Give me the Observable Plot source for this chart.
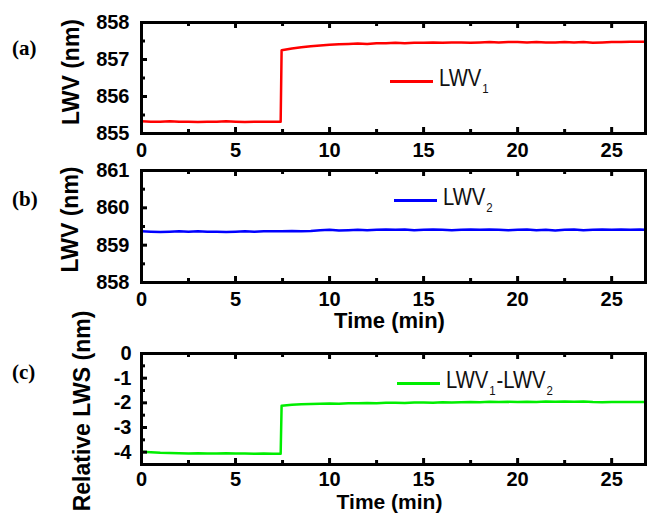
<!DOCTYPE html>
<html>
<head>
<meta charset="utf-8">
<script src="https://cdn.jsdelivr.net/npm/d3@7"></script>
<script src="https://cdn.jsdelivr.net/npm/@observablehq/plot@0.6"></script>
<style>
  html, body { margin: 0; padding: 0; background: #fff; }
  #wrap { position: relative; width: 647px; height: 515px; background: #fff; overflow: hidden; }
  #wrap svg { position: absolute; left: 0; }
  .plabel { position: absolute; left: 12px; font: bold 21px "Liberation Serif", "Times New Roman", serif; line-height: 1; color: #000; }
  .legend { position: absolute; display: flex; align-items: center; height: 24px; }
  .legend .ln { width: 43px; height: 3px; margin-right: 6px; }
  .legend .tx { font: 23px "Liberation Sans", Arial, sans-serif; color: #111; line-height: 1; transform: scaleX(0.88); transform-origin: left center; white-space: nowrap; }
  .legend sub { font-size: 13px; vertical-align: -7px; margin: 0 1px; }
</style>
</head>
<body>
<div id="wrap"></div>
<script>
// ---- data ----
const times = [0,0.5,1,1.5,2,2.5,3,3.5,4,4.5,5,5.5,6,6.5,7,7.4,7.45,
  8,8.5,9,9.5,10,10.5,11,11.5,12,12.5,13,13.5,14,14.5,15,15.5,16,16.5,17,17.5,
  18,18.5,19,19.5,20,20.5,21,21.5,22,22.5,23,23.5,24,24.5,25,25.5,26,26.5,26.8];

const lwv1 = [855.33,855.32,855.32,855.33,855.32,855.32,855.31,855.32,855.32,855.33,855.32,855.31,855.32,855.32,855.32,855.32,857.25,
  857.30,857.33,857.36,857.38,857.40,857.41,857.42,857.43,857.42,857.44,857.44,857.45,857.44,857.45,857.45,857.46,857.45,857.46,857.46,857.45,
  857.46,857.47,857.46,857.47,857.47,857.46,857.47,857.46,857.46,857.47,857.46,857.47,857.45,857.46,857.47,857.47,857.48,857.48,857.48];

const lwv2 = [859.37,859.36,859.35,859.36,859.37,859.36,859.37,859.36,859.36,859.35,859.36,859.37,859.36,859.37,859.37,859.37,859.37,
  859.38,859.37,859.38,859.40,859.41,859.39,859.40,859.41,859.40,859.41,859.42,859.41,859.42,859.40,859.41,859.42,859.41,859.40,859.41,859.42,
  859.41,859.42,859.41,859.40,859.41,859.42,859.40,859.41,859.39,859.41,859.42,859.40,859.41,859.42,859.41,859.42,859.41,859.42,859.41];

const relLws = [-3.98,-4.00,-4.02,-4.03,-4.04,-4.05,-4.04,-4.05,-4.05,-4.04,-4.05,-4.05,-4.06,-4.05,-4.06,-4.06,-2.12,
  -2.08,-2.06,-2.05,-2.04,-2.03,-2.04,-2.02,-2.02,-2.01,-2.02,-2.00,-2.00,-2.01,-1.99,-1.99,-2.00,-1.98,-1.99,-1.98,-1.97,
  -1.98,-1.96,-1.97,-1.96,-1.97,-1.96,-1.97,-1.95,-1.96,-1.95,-1.96,-1.95,-1.97,-1.98,-1.97,-1.97,-1.97,-1.97,-1.97];

const xDomain = [0, 26.8];
const xTicks = [0, 5, 10, 15, 20, 25];
const xMinor = [2.5, 7.5, 12.5, 17.5, 22.5];

const panelA = {values: lwv1, color: "#ff0000", yDomain: [855, 858], yTicks: [855, 856, 857, 858], yMinor: [855.5, 856.5, 857.5], ylabel: "LWV (nm)"};
const panelB = {values: lwv2, color: "#0000ff", yDomain: [858, 861], yTicks: [858, 859, 860, 861], yMinor: [858.5, 859.5, 860.5], ylabel: "LWV (nm)", xlabel: "Time (min)"};
const panelC = {values: relLws, color: "#00ee00", yDomain: [-4.5, 0], yTicks: [0, -1, -2, -3, -4], yMinor: [-0.5, -1.5, -2.5, -3.5], ylabel: "Relative LWS (nm)", xlabel: "Time (min)"};

// ---- layout ----
const layout = [
  {p: panelA, top: 0,   height: 165, marginTop: 22, marginBottom: 32, yPad: 12, xPad: 9, ylDx: -70, ylDy: -6, xlDy: 0, xlSize: 22, label: "(a)", labelTop: 38,
   legend: {left: 390, top: 69, html: "LWV<sub>1</sub>"}},
  {p: panelB, top: 150, height: 190, marginTop: 20, marginBottom: 58, yPad: 12, xPad: 9, ylDx: -71, ylDy: -7, xlDy: 38, xlSize: 22, label: "(b)", labelTop: 189,
   legend: {left: 394, top: 188, html: "LWV<sub>2</sub>"}},
  {p: panelC, top: 340, height: 175, marginTop: 13, marginBottom: 51, yPad: 10, xPad: 7, ylDx: -59, ylDy: 2, xlDy: 38, xlSize: 21, label: "(c)", labelTop: 362,
   legend: {left: 397, top: 371, html: "LWV<sub>1</sub>-LWV<sub>2</sub>"}}
];

const wrap = document.getElementById("wrap");

for (const L of layout) {
  const p = L.p;
  const data = times.map((t, i) => ({t, v: p.values[i]}));
  const [y0, y1] = p.yDomain;
  const tickStyle = {stroke: "black", strokeWidth: 3};
  const marks = [
    Plot.line(data, {x: "t", y: "v", stroke: p.color, strokeWidth: 2.5}),
    Plot.frame({stroke: "black", strokeWidth: 3}),
    // inward ticks, bottom and top
    Plot.ruleX(xTicks, {x: d => d, y1: () => y0, y2: () => y0, insetTop: -6, ...tickStyle}),
    Plot.ruleX(xMinor, {x: d => d, y1: () => y0, y2: () => y0, insetTop: -4, ...tickStyle}),
    Plot.ruleX(xTicks, {x: d => d, y1: () => y1, y2: () => y1, insetBottom: -6, ...tickStyle}),
    Plot.ruleX(xMinor, {x: d => d, y1: () => y1, y2: () => y1, insetBottom: -4, ...tickStyle}),
    // inward ticks, left
    Plot.ruleY(p.yTicks, {y: d => d, x1: () => xDomain[0], x2: () => xDomain[0], insetRight: -6, ...tickStyle}),
    Plot.ruleY(p.yMinor, {y: d => d, x1: () => xDomain[0], x2: () => xDomain[0], insetRight: -4, ...tickStyle}),
    Plot.axisX({ticks: xTicks, tickSize: 0, tickPadding: L.xPad, label: null, tickFormat: d => String(d)}),
    Plot.axisY({ticks: p.yTicks, tickSize: 0, tickPadding: L.yPad, label: null, tickFormat: d => String(d)}),
    Plot.text([p.ylabel], {text: d => d, frameAnchor: "left", dx: L.ylDx, dy: L.ylDy, rotate: -90, fontSize: 23, fontWeight: "bold", lineAnchor: "middle", textAnchor: "middle"})
  ];
  if (p.xlabel) {
    marks.push(Plot.text([p.xlabel], {text: d => d, frameAnchor: "bottom", dy: L.xlDy, dx: -4, fontSize: L.xlSize, fontWeight: "bold", lineAnchor: "middle"}));
  }
  const svg = Plot.plot({
    width: 647,
    height: L.height,
    marginLeft: 141,
    marginRight: 2,
    marginTop: L.marginTop,
    marginBottom: L.marginBottom,
    x: {domain: xDomain},
    y: {domain: p.yDomain},
    style: {fontFamily: "'Liberation Sans', Arial, sans-serif", fontSize: "20px", fontWeight: "bold", color: "#000", background: "transparent", overflow: "visible"},
    marks
  });
  svg.style.top = L.top + "px";
  wrap.appendChild(svg);

  const lab = document.createElement("div");
  lab.className = "plabel";
  lab.style.top = L.labelTop + "px";
  lab.textContent = L.label;
  wrap.appendChild(lab);

  const lg = document.createElement("div");
  lg.className = "legend";
  lg.style.left = L.legend.left + "px";
  lg.style.top = L.legend.top + "px";
  const ln = document.createElement("span");
  ln.className = "ln";
  ln.style.background = p.color;
  const tx = document.createElement("span");
  tx.className = "tx";
  tx.innerHTML = L.legend.html;
  lg.appendChild(ln);
  lg.appendChild(tx);
  wrap.appendChild(lg);
}
</script>
</body>
</html>
